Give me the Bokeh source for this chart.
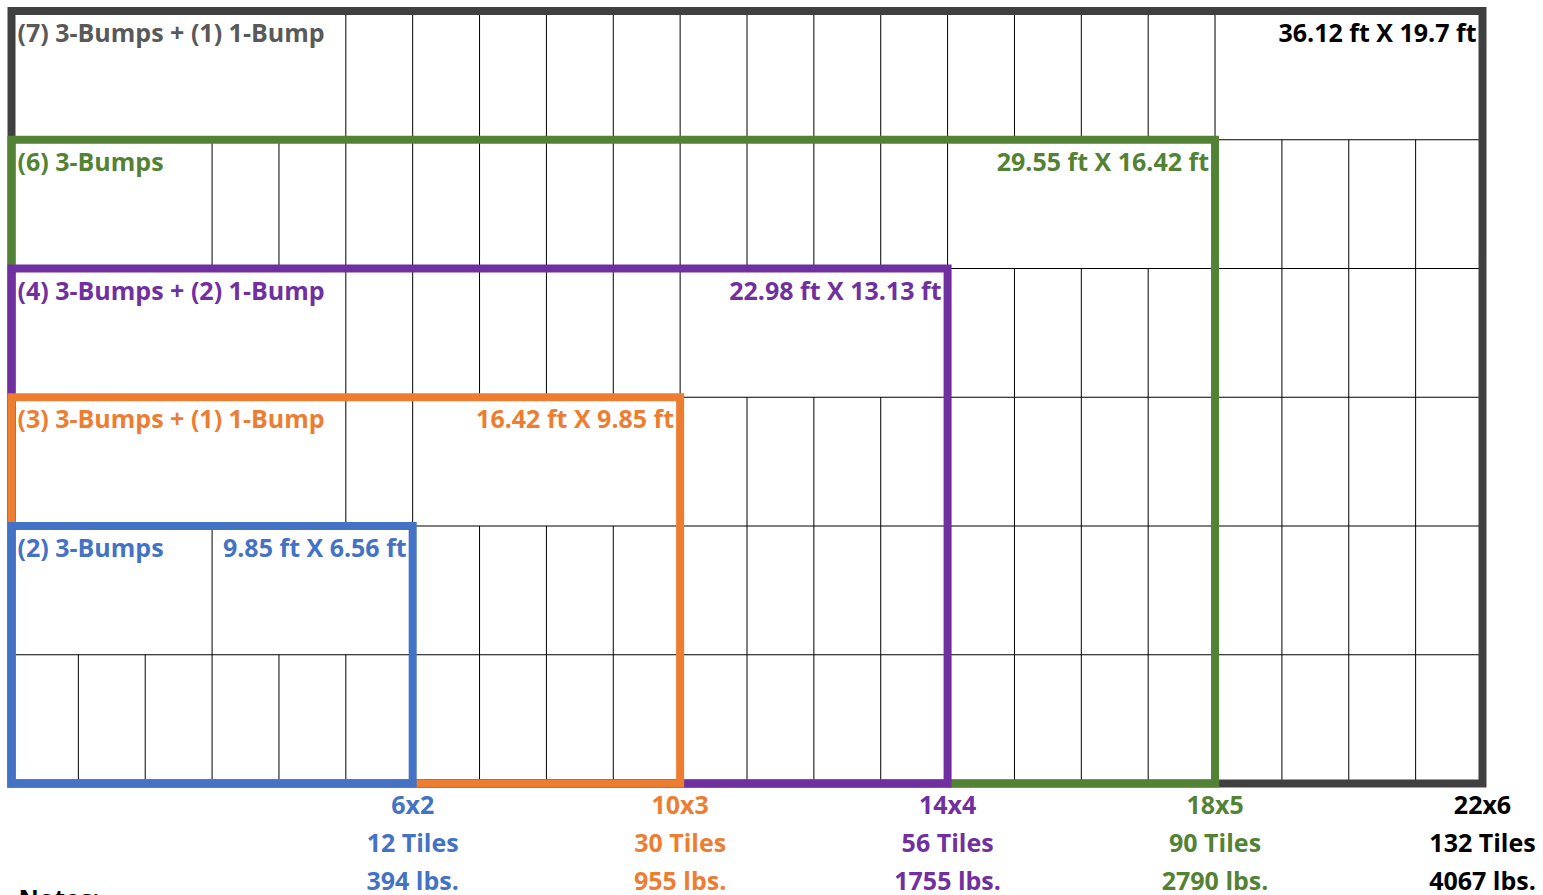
from bokeh.plotting import figure
from bokeh.models import Range1d, ColumnDataSource
from bokeh.embed import file_html
from bokeh.resources import INLINE
from bokeh.core.properties import value

# ---------------- data ----------------
N_COLS = 22
N_ROWS = 6

# nested footprints (largest first so smaller ones draw on top)
fp_cols = [22, 18, 14, 10, 6]
fp_rows = [6, 5, 4, 3, 2]
fp_tiles = [132, 90, 56, 30, 12]
fp_lbs = [4067, 2790, 1755, 955, 394]
fp_colors = ["#404040", "#548235", "#7030A0", "#ED7D31", "#4472C4"]
fp_text_colors = ["#000000", "#548235", "#7030A0", "#ED7D31", "#4472C4"]

# merged label cells inside the grid
cell_row = [0, 0, 1, 1, 2, 2, 3, 3, 4, 4]
cell_c0 = [0, 18, 0, 14, 0, 10, 0, 6, 0, 3]
cell_c1 = [5, 22, 3, 18, 5, 14, 5, 10, 3, 6]
cell_text = [
    "(7) 3-Bumps + (1) 1-Bump", "36.12 ft X 19.7 ft",
    "(6) 3-Bumps", "29.55 ft X 16.42 ft",
    "(4) 3-Bumps + (2) 1-Bump", "22.98 ft X 13.13 ft",
    "(3) 3-Bumps + (1) 1-Bump", "16.42 ft X 9.85 ft",
    "(2) 3-Bumps", "9.85 ft X 6.56 ft",
]
cell_color = ["#595959", "#000000", "#548235", "#548235", "#7030A0", "#7030A0",
              "#ED7D31", "#ED7D31", "#4472C4", "#4472C4"]
cell_align = ["left", "right"] * 5

notes_text = "Notes:"

FONT = "Open Sans"

# ---------------- figure ----------------
W, H = 1543, 895
px_col = (1482 - 11) / N_COLS
px_row = (783 - 10.5) / N_ROWS
x0 = -11 / px_col
y0 = -10.5 / px_row

p = figure(width=W, height=H, output_backend="svg", toolbar_location=None,
           x_range=Range1d(x0, x0 + W / px_col),
           y_range=Range1d(y0 + H / px_row, y0),
           min_border=0)
p.axis.visible = False
p.grid.visible = False
p.outline_line_color = None
p.background_fill_color = "white"
p.border_fill_color = "white"

# horizontal grid lines
hy = list(range(1, N_ROWS))
p.segment(x0=[0] * len(hy), x1=[N_COLS] * len(hy), y0=hy, y1=hy,
          line_color="black", line_width=1)

# vertical grid lines, skipping interior of merged cells
vx, vy0, vy1 = [], [], []
for r in range(N_ROWS):
    for c in range(1, N_COLS):
        inside = any(cell_row[i] == r and cell_c0[i] < c < cell_c1[i]
                     for i in range(len(cell_row)))
        if not inside:
            vx.append(c)
            vy0.append(r)
            vy1.append(r + 1)
p.segment(x0=vx, x1=vx, y0=vy0, y1=vy1, line_color="black", line_width=1)

# footprint outlines
fp_src = ColumnDataSource(dict(
    left=[0] * len(fp_cols), right=fp_cols,
    top=[N_ROWS - r for r in fp_rows], bottom=[N_ROWS] * len(fp_cols),
    color=fp_colors))
p.quad(left="left", right="right", top="top", bottom="bottom", source=fp_src,
       fill_color=None, line_color="color", line_width=8, line_join="miter")

# cell labels
for align in ("left", "right"):
    idx = [i for i in range(len(cell_row)) if cell_align[i] == align]
    src = ColumnDataSource(dict(
        x=[cell_c0[i] if align == "left" else cell_c1[i] for i in idx],
        y=[cell_row[i] for i in idx],
        text=[cell_text[i] for i in idx],
        color=[cell_color[i] for i in idx]))
    p.text(x="x", y="y", text="text", source=src, text_color="color",
           text_font=value(FONT), text_font_style="bold", text_font_size="25px",
           text_align=align, text_baseline="middle",
           x_offset=6 if align == "left" else -6, y_offset=21)

# bottom labels
lab_src = ColumnDataSource(dict(
    x=fp_cols, y=[N_ROWS] * len(fp_cols),
    dims=[f"{c}x{r}" for c, r in zip(fp_cols, fp_rows)],
    tiles=[f"{t} Tiles" for t in fp_tiles],
    lbs=[f"{w} lbs." for w in fp_lbs],
    color=fp_text_colors))
for field, off in (("dims", 20), ("tiles", 58), ("lbs", 96)):
    p.text(x="x", y="y", text=field, source=lab_src, text_color="color",
           text_font=value(FONT), text_font_style="bold", text_font_size="25px",
           text_align="center", text_baseline="middle", y_offset=off)

p.text(x=[0], y=[N_ROWS], text=[notes_text], text_color="black",
       text_font=value(FONT), text_font_style="bold", text_font_size="25px",
       text_align="left", text_baseline="top", x_offset=7, y_offset=97)

open("out.html", "w").write(file_html(p, INLINE))
